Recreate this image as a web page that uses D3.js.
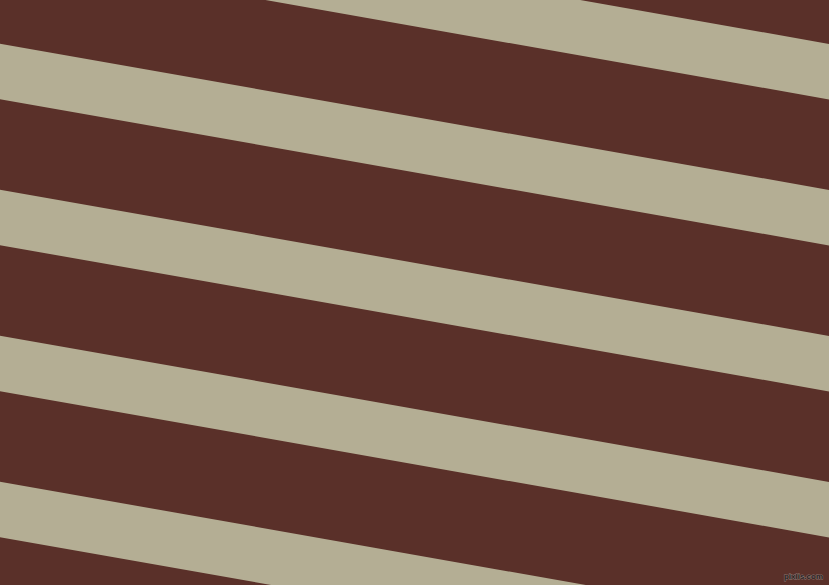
<!DOCTYPE html>
<html><head><meta charset="utf-8">
<script src="https://cdn.jsdelivr.net/npm/d3@7"></script>
<style>html,body{margin:0;padding:0;overflow:hidden;background:#5a3029}</style>
</head><body>
<script>
const stripeIndex = [-1, 0, 1, 2, 3, 4];
const colorNames = ["dark", "light"];
const colorValues = ["#5a3029", "#b4ae94"];
const watermark = ["pixlis.com"];

const W = 829, H = 585;
const angle = 10;
const rad = angle * Math.PI / 180;
const period = 146 * Math.cos(rad);
const thick = 55.5 * Math.cos(rad);
const first = 43.7 * Math.cos(rad);

const color = d3.scaleOrdinal().domain(colorNames).range(colorValues);
const y = d3.scaleLinear().domain([0, 1]).range([first, first + period]);

const svg = d3.select("body").append("svg").attr("width", W).attr("height", H);
svg.append("rect").attr("width", W).attr("height", H).attr("fill", color("dark"));
const g = svg.append("g").attr("transform", `rotate(${angle})`);
g.selectAll("rect.s").data(stripeIndex).join("rect").attr("class", "s")
  .attr("x", -300).attr("width", 1500)
  .attr("y", d => y(d)).attr("height", thick)
  .attr("fill", color("light"));

svg.selectAll("text.w").data(watermark).join("text").attr("class", "w")
  .attr("x", 823).attr("y", 579).attr("text-anchor", "end")
  .attr("font-family", "Liberation Sans").attr("font-weight", "bold").attr("font-size", 8)
  .attr("fill", "#2a1f1e").attr("stroke", "#8f7e7b").attr("stroke-width", 0.8)
  .attr("paint-order", "stroke").text(d => d);
</script>
</body></html>
